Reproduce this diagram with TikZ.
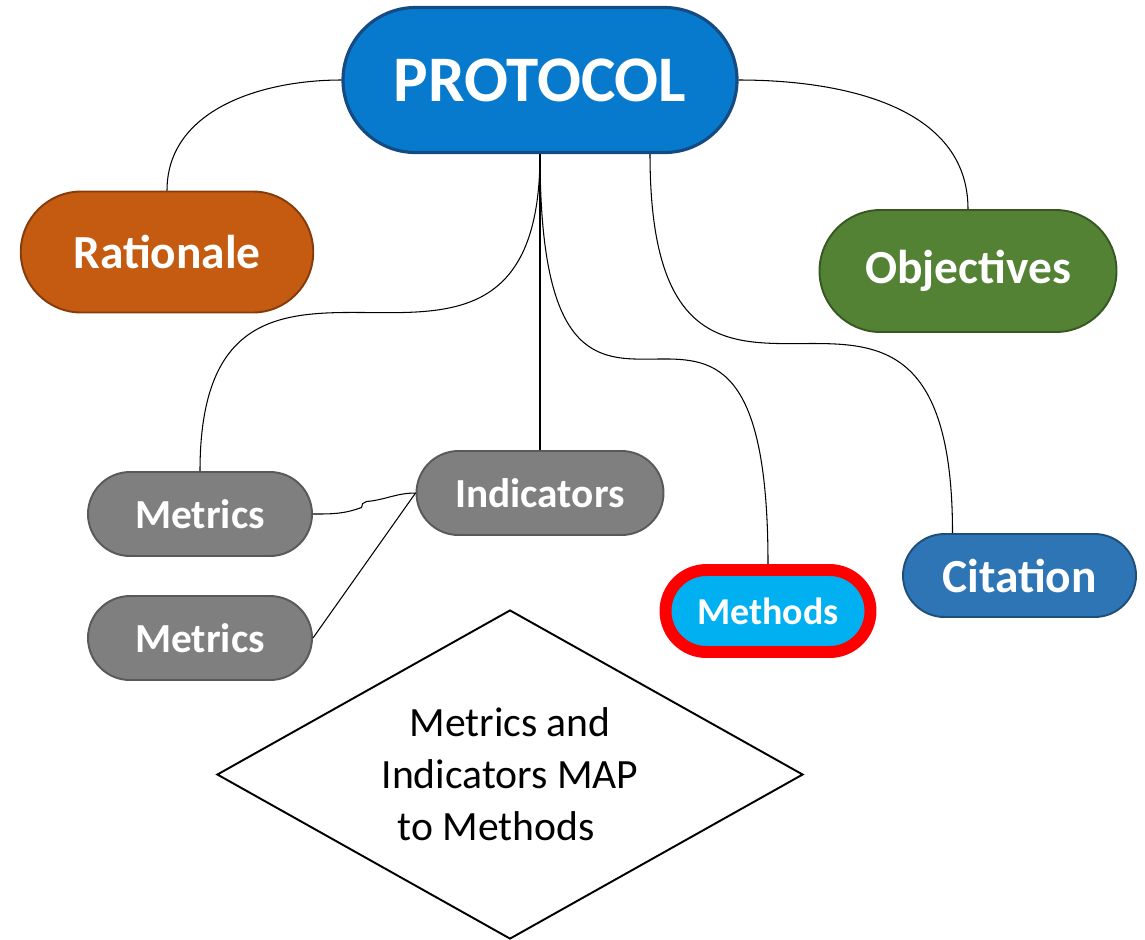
\documentclass[tikz,border=0pt]{standalone}
\usepackage{fontspec}
\setmainfont{Carlito}
\usetikzlibrary{shapes.misc,shapes.geometric}
\definecolor{protofill}{RGB}{8,122,206}
\definecolor{protoedge}{RGB}{20,75,130}
\definecolor{ratfill}{RGB}{197,90,17}
\definecolor{ratedge}{RGB}{132,60,12}
\definecolor{objfill}{RGB}{84,130,53}
\definecolor{objedge}{RGB}{56,87,35}
\definecolor{greyfill}{RGB}{127,127,127}
\definecolor{greyedge}{RGB}{89,89,89}
\definecolor{methfill}{RGB}{0,176,240}
\definecolor{citfill}{RGB}{46,117,182}
\definecolor{citedge}{RGB}{31,78,121}
\begin{document}
\begin{tikzpicture}[
    pill/.style={rounded rectangle, draw, line width=1.1pt, text=white, inner sep=0pt},
    bigpill/.style={pill, minimum width=5.85cm, minimum height=2.42cm, font=\bfseries\fontsize{27}{32}\selectfont},
    greypill/.style={pill, fill=greyfill, draw=greyedge, minimum width=4.48cm, minimum height=1.68cm, font=\bfseries\fontsize{23.5}{28}\selectfont},
    link/.style={draw=black, line width=0.6pt}
]
    \useasboundingbox (0,0) rectangle (22.9,-18.78);

    \node[pill, fill=protofill, draw=protoedge, line width=1.8pt, minimum width=7.88cm, minimum height=2.9cm, font=\bfseries\fontsize{37}{44}\selectfont] (proto) at (10.8,-1.6) {PROTOCOL};
    \node[bigpill, fill=ratfill, draw=ratedge] (rat) at (3.34,-5.04) {Rationale};
    \node[bigpill, fill=objfill, draw=objedge, minimum width=5.94cm, minimum height=2.44cm] (obj) at (19.36,-5.42) {Objectives};
    \node[greypill] (met1) at (4.0,-10.28) {Metrics};
    \node[greypill] (met2) at (4.0,-12.76) {Metrics};
    \node[greypill, minimum width=4.94cm] (ind) at (10.8,-9.86) {Indicators};
    \node[pill, fill=methfill, draw=red, line width=6.8pt, minimum width=4.1cm, minimum height=1.64cm, font=\bfseries\fontsize{21.6}{26}\selectfont] (meth) at (15.36,-12.22) {Methods};
    \node[pill, fill=citfill, draw=citedge, minimum width=4.66cm, minimum height=1.66cm, font=\bfseries\fontsize{27}{32}\selectfont] (cit) at (20.39,-11.51) {Citation};
    \node[diamond, draw, line width=1.1pt, aspect=1.78, minimum width=11.72cm, minimum height=6.58cm, inner sep=0pt, align=center, font=\fontsize{23.7}{29.6}\selectfont] (map) at (10.2,-15.49) {Metrics and\\Indicators MAP\\to Methods\kern0.56cm};

    \coordinate (hop1) at (7.23,-10.15);
    \coordinate (hop2) at (7.33,-10.03);

    \draw[link] (proto.west) to[out=180,in=90] (rat.north);
    \draw[link] (proto.east) to[out=0,in=90] (obj.north);
    \draw[link] (proto.south) .. controls +(0,-6.4) and +(0,6.4) .. (met1.north);
    \draw[link] (proto.south) -- (ind.north);
    \draw[link] (proto.south) .. controls +(0,-8.26) and +(0,8.26) .. (meth.north);
    \draw[link] ([xshift=2.2cm]proto.south) .. controls +(0,-7.62) and +(0,7.62) .. ([xshift=-1.34cm]cit.north);
    \draw[link] (met1.east) to[out=0,in=200] (hop1) to[out=100,in=190] (hop2) to[out=5,in=180] (ind.west);
    \draw[link] (met2.east) -- (ind.west);
\end{tikzpicture}
\end{document}
